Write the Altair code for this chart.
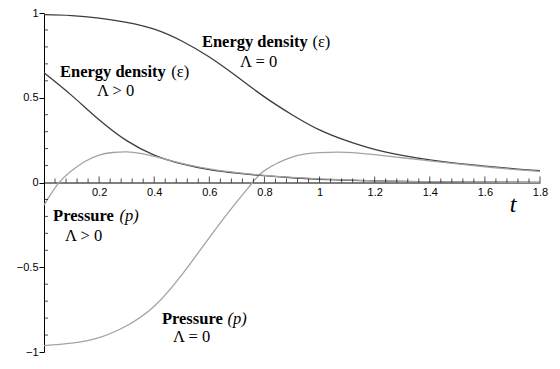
import altair as alt
import pandas as pd

# ---- data ----
t_e0 = [0, 0.1, 0.2, 0.3, 0.4, 0.5, 0.6, 0.7, 0.8, 0.9, 1.0, 1.1, 1.2, 1.3, 1.4, 1.5, 1.6, 1.7, 1.8]
eps_L0 = [0.99, 0.985, 0.97, 0.945, 0.905, 0.835, 0.74, 0.625, 0.505, 0.40, 0.31, 0.245, 0.195, 0.16, 0.133, 0.113, 0.097, 0.082, 0.07]

t_p0 = [0, 0.1, 0.2, 0.3, 0.4, 0.5, 0.6, 0.7, 0.757, 0.8, 0.9, 1.0, 1.1, 1.2, 1.3, 1.4, 1.5, 1.6, 1.7, 1.8]
p_L0 = [-0.962, -0.948, -0.915, -0.845, -0.73, -0.545, -0.325, -0.113, 0.0, 0.07, 0.15, 0.176, 0.178, 0.164, 0.146, 0.128, 0.11, 0.093, 0.078, 0.066]

t_e1 = [0, 0.1, 0.2, 0.3, 0.4, 0.5, 0.6, 0.7, 0.8, 0.9, 1.0, 1.2, 1.4, 1.6, 1.8]
eps_L1 = [0.647, 0.514, 0.37, 0.247, 0.162, 0.11, 0.076, 0.055, 0.04, 0.028, 0.019, 0.009, 0.004, 0.002, 0.001]

t_p1 = [0, 0.05, 0.1, 0.15, 0.2, 0.25, 0.3, 0.35, 0.4, 0.5, 0.6, 0.7, 0.8, 0.9, 1.0, 1.2, 1.4, 1.6, 1.8]
p_L1 = [-0.134, -0.01, 0.069, 0.125, 0.162, 0.177, 0.181, 0.172, 0.154, 0.113, 0.08, 0.058, 0.042, 0.03, 0.021, 0.01, 0.005, 0.002, 0.001]

x_ticks = [0.2, 0.4, 0.6, 0.8, 1, 1.2, 1.4, 1.6, 1.8]
y_ticks = [-1, -0.5, 0, 0.5, 1]

series_names = ["eps0", "p0", "eps1", "p1"]
series_colors = ["#3c3c3c", "#a3a3a3", "#3c3c3c", "#a3a3a3"]

rows = []
for name, ts, vs in [("eps0", t_e0, eps_L0), ("p0", t_p0, p_L0), ("eps1", t_e1, eps_L1), ("p1", t_p1, p_L1)]:
    for t, v in zip(ts, vs):
        rows.append({"t": t, "v": v, "s": name})
curves = pd.DataFrame(rows)

x_minor = [round(i * 0.04, 2) for i in range(1, 46) if i % 5 != 0]
y_minor = [round(-1 + i * 0.1, 1) for i in range(1, 20) if i % 5 != 0]

# annotations
bold_lbl = pd.DataFrame({
    "text": ["Energy density", "Energy density", "Pressure", "Pressure"],
    "x": [0.058, 0.573, 0.033, 0.428],
    "y": [0.65, 0.83, -0.2, -0.806],
})
paren_lbl = pd.DataFrame({
    "text": ["(ε)", "(ε)"],
    "x": [0.462, 0.974],
    "y": [0.65, 0.83],
})
ital_lbl = pd.DataFrame({
    "text": ["(p)", "(p)"],
    "x": [0.274, 0.666],
    "y": [-0.2, -0.806],
})
lam_lbl = pd.DataFrame({
    "text": ["Λ > 0", "Λ = 0", "Λ > 0", "Λ = 0"],
    "x": [0.192, 0.711, 0.076, 0.468],
    "y": [0.537, 0.709, -0.314, -0.909],
})
t_lbl = pd.DataFrame({"text": ["t"], "x": [1.69], "y": [-0.174]})

PLOT_H = 339
xs = alt.Scale(domain=[0, 1.8], nice=False, zero=False)
ys = alt.Scale(domain=[-1, 1], nice=False)

x_axis = alt.Axis(
    values=x_ticks, format="~g", offset=-PLOT_H / 2, title=None, grid=False,
    domainColor="black", domainWidth=1, ticks=False, labelFlush=False,
    labelFont="Liberation Sans", labelFontSize=11, labelColor="black", labelPadding=4)
y_axis = alt.Axis(
    values=y_ticks, format="~g", title=None, grid=False,
    domainColor="black", domainWidth=1, tickColor="black", tickSize=5, labelFlush=False,
    labelFont="Liberation Sans", labelFontSize=11, labelColor="black", labelPadding=1)

lines = alt.Chart(curves).mark_line(interpolate="natural", strokeWidth=1.3).encode(
    x=alt.X("t:Q", scale=xs, axis=x_axis),
    y=alt.Y("v:Q", scale=ys, axis=y_axis),
    color=alt.Color("s:N", scale=alt.Scale(domain=series_names, range=series_colors), legend=None),
    detail="s:N",
)

xminor = alt.Chart(pd.DataFrame({"t": x_minor})).mark_tick(
    orient="vertical", size=4, thickness=1, color="black", yOffset=-2
).encode(x=alt.X("t:Q", scale=xs, axis=x_axis), y=alt.datum(0, scale=ys, axis=y_axis))

xmajor = alt.Chart(pd.DataFrame({"t": x_ticks})).mark_tick(
    orient="vertical", size=6, thickness=1, color="black", yOffset=-3
).encode(x=alt.X("t:Q", scale=xs, axis=x_axis), y=alt.datum(0, scale=ys, axis=y_axis))

yminor = alt.Chart(pd.DataFrame({"v": y_minor})).mark_tick(
    orient="horizontal", size=4, thickness=1, color="black", xOffset=2
).encode(y=alt.Y("v:Q", scale=ys, axis=y_axis), x=alt.datum(0, scale=xs, axis=x_axis))

def txt(df, baseline="middle", **kw):
    return alt.Chart(df).mark_text(align="left", baseline=baseline, font="Liberation Serif",
                                   color="black", **kw).encode(
        x=alt.X("x:Q", scale=xs, axis=x_axis), y=alt.Y("y:Q", scale=ys, axis=y_axis), text="text:N")

bold = txt(bold_lbl, fontSize=16.5, fontWeight="bold")
paren = txt(paren_lbl, fontSize=16.5)
ital = txt(ital_lbl, fontSize=16.5, fontStyle="italic")
lam = txt(lam_lbl, fontSize=16.5)
tl = txt(t_lbl, baseline="alphabetic", fontSize=24, fontStyle="italic")

chart = alt.layer(lines, xminor, xmajor, yminor, bold, paren, ital, lam, tl).properties(
    width=496, height=PLOT_H,
    padding={"left": 36, "top": 5, "right": 12, "bottom": 4},
    autosize=alt.AutoSizeParams(type="none"),
).configure_view(stroke=None)

chart.save("out.html", embed_options={"renderer": "svg", "actions": False})
